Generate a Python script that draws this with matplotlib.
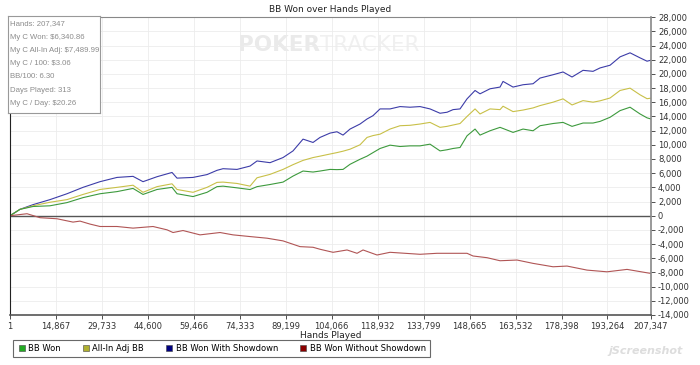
import matplotlib.pyplot as plt
from matplotlib.ticker import FuncFormatter, FixedLocator
from matplotlib.lines import Line2D

# hands played (x) for the three upper series
hands = [1, 3235, 7440, 12940, 18440, 23615, 29115, 34615, 39790, 43025, 47555, 52405, 54025,
         59200, 63730, 66965, 68905, 73435, 77640, 79905, 84110, 88315, 91550, 94785, 98020,
         100285, 103520, 105755, 107725, 109990, 113225, 115490, 117430, 119695, 122930,
         126165, 129400, 132635, 135870, 139105, 141370, 143310, 145575, 147840, 150430,
         152045, 155280, 158515, 159485, 162720, 165955, 169190, 171455, 175660, 178895,
         181805, 185365, 188600, 190865, 194100, 197335, 200570, 203805, 206070, 207347]

bb_showdown = [0, 900, 1560, 2270, 3100, 4000, 4800, 5400, 5550, 4800, 5500, 6100, 5300,
               5400, 5800, 6400, 6630, 6530, 7000, 7720, 7480, 8200, 9140, 10800, 10330,
               11040, 11650, 11840, 11370, 12220, 12930, 13640, 14110, 15060, 15060,
               15390, 15300, 15390, 15060, 14450, 14590, 14960, 15060, 16480, 17660,
               17190, 17900, 18140, 18940, 18140, 18470, 18610, 19410, 19880, 20270,
               19560, 20500, 20360, 20840, 21220, 22400, 22970, 22260, 21790, 21930]

allin_adj = [0, 900, 1400, 1900, 2270, 3000, 3700, 4000, 4300, 3300, 4100, 4500, 3700,
             3300, 4000, 4700, 4740, 4550, 4170, 5350, 5830, 6530, 7200, 7800, 8200,
             8400, 8700, 8900, 9100, 9380, 10000, 11040, 11300, 11500, 12220,
             12690, 12750, 12930, 13160, 12460, 12600, 12790, 13000, 14000, 15060,
             14350, 15060, 14960, 15440, 14680, 14900, 15200, 15530, 16010, 16480,
             15620, 16230, 16010, 16200, 16600, 17660, 17990, 17050, 16500, 16580]

bb_won = [0, 900, 1300, 1400, 1850, 2550, 3100, 3400, 3850, 3000, 3700, 4000, 3100,
          2700, 3300, 4100, 4170, 3930, 3690, 4100, 4400, 4740, 5590, 6300, 6160,
          6300, 6530, 6500, 6530, 7250, 7960, 8400, 8900, 9480, 9950,
          9760, 9850, 9850, 10090, 9140, 9300, 9480, 9620, 11270, 12220,
          11370, 11980, 12460, 12300, 11750, 12220, 11980, 12690, 13000, 13160,
          12600, 13070, 13070, 13300, 13880, 14820, 15300, 14350, 13800, 13640]

hands_red = [1, 5500, 9705, 15205, 20380, 22645, 25880, 29115, 34615, 39790, 46260, 50790,
             52730, 55965, 61465, 67935, 72140, 77640, 83140, 88315, 93815, 98020, 100285,
             104490, 109020, 112255, 114195, 118725, 122930, 132635, 138135, 147840, 149780,
             154310, 158515, 164015, 169190, 175660, 180190, 186660, 193130, 199600, 206070, 207347]
bb_no_showdown = [0, 280, -280, -430, -900, -760, -1180, -1520, -1520, -1750, -1520, -1990,
                  -2370, -2090, -2700, -2370, -2700, -2940, -3170, -3550, -4360, -4450, -4730,
                  -5160, -4830, -5300, -4830, -5540, -5160, -5440, -5300, -5300, -5680,
                  -5920, -6350, -6250, -6720, -7200, -7100, -7670, -7910, -7570, -8050, -8140]

x_ticks = [1, 14867, 29733, 44600, 59466, 74333, 89199, 104066, 118932, 133799,
           148665, 163532, 178398, 193264, 207347]
y_ticks = list(range(-14000, 28001, 2000))

stats = ["Hands: 207,347", "My C Won: $6,340.86", "My C All-In Adj: $7,489.99",
         "My C / 100: $3.06", "BB/100: 6.30", "Days Played: 313", "My C / Day: $20.26"]

fig = plt.figure(figsize=(7, 3.65), dpi=100)
ax = fig.add_axes([0.0143, 0.137, 0.9157, 0.816])

ax.plot(hands, bb_showdown, color='#3c3ca8', lw=0.8)
ax.plot(hands, allin_adj, color='#c8c048', lw=0.8)
ax.plot(hands, bb_won, color='#3d9a3d', lw=0.8)
ax.plot(hands_red, bb_no_showdown, color='#b05555', lw=0.8)

ax.set_xlim(1, 207347)
ax.set_ylim(-14000, 28000)
ax.xaxis.set_major_locator(FixedLocator(x_ticks))
ax.yaxis.set_major_locator(FixedLocator(y_ticks))
ax.yaxis.tick_right()
ax.yaxis.set_major_formatter(FuncFormatter(lambda v, p: f"{int(v):,}"))
ax.xaxis.set_major_formatter(FuncFormatter(lambda v, p: f"{int(v):,}"))
ax.tick_params(axis='both', labelsize=6, colors='#333333', length=3, width=0.6, pad=2)
ax.grid(True, color='#ececec', lw=0.6)
ax.set_axisbelow(True)
ax.axhline(0, color='#555555', lw=1.0, zorder=1)

ax.spines['top'].set_color('#888888')
ax.spines['right'].set_color('#888888')
ax.spines['right'].set_linewidth(1.2)
ax.spines['left'].set_color('#222222')
ax.spines['bottom'].set_color('#555555')
ax.spines['bottom'].set_linewidth(1.2)

ax.set_title("BB Won over Hands Played", fontsize=6.5, color='#222222', pad=4)
ax.set_xlabel("Hands Played", fontsize=6.5, color='#222222', labelpad=0)

# watermark
ax.text(0.484, 0.906, "POKER", transform=ax.transAxes, fontsize=15.5, fontweight='bold',
        color='#eaeaea', ha='right', va='center', zorder=0)
ax.text(0.484, 0.906, "TRACKER", transform=ax.transAxes, fontsize=15.5,
        color='#f0f0f0', ha='left', va='center', zorder=0)

# stats box
box = fig.add_axes([8 / 700, 1 - 113 / 365, 92 / 700, 97 / 365])
box.set_xticks([]); box.set_yticks([])
box.set_facecolor('white')
for s in box.spines.values():
    s.set_color('#999999'); s.set_linewidth(0.8)
for i, t in enumerate(stats):
    box.text(0.02, 0.92 - i * 0.137, t, transform=box.transAxes, fontsize=5.6,
             family='Liberation Sans', color='#8c8c8c', va='center')

handles = [Line2D([], [], marker='s', ls='none', markersize=4, markerfacecolor=c,
                  markeredgecolor='#444444', markeredgewidth=0.4)
           for c in ['#22aa22', '#b0b030', '#000080', '#8b0000']]
leg = fig.legend(handles, ["BB Won", "All-In Adj BB", "BB Won With Showdown",
                           "BB Won Without Showdown"],
                 loc='lower left', bbox_to_anchor=(9 / 700, 1 - 361 / 365), ncol=4,
                 fontsize=6, frameon=True, fancybox=False, handletextpad=0.3,
                 columnspacing=2.5, borderpad=0.5, handlelength=1.0)
leg.get_frame().set_edgecolor('#444444')
leg.get_frame().set_linewidth(0.8)

fig.text(0.975, 0.03, "jScreenshot", fontsize=8, color='#dddddd', ha='right',
         style='italic', fontweight='bold')

fig.savefig("out.png", dpi=100)
